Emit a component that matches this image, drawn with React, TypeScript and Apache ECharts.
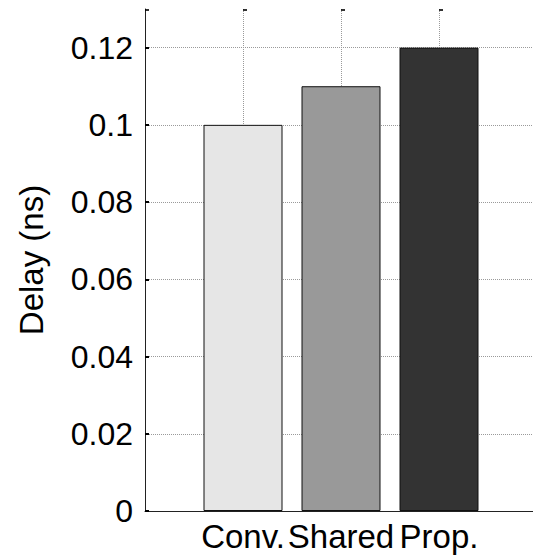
import React, { useEffect, useRef } from "react";
import * as echarts from "echarts";

// Bar categories and measured delays (ns)
const categories = ["Conv.", "Shared", "Prop."];
const delays = [0.1, 0.11, 0.12];
const barColors = ["#e6e6e6", "#999999", "#333333"];

// Axis extents
const yMax = 0.13;
const yStep = 0.02;
const xMin = 0;
const xMax = 4;

const FONT = "Arial, 'Liberation Sans', Helvetica, sans-serif";

export default function App() {
  const ref = useRef<HTMLDivElement>(null);

  useEffect(() => {
    if (!ref.current) return;
    const chart = echarts.init(ref.current, null, { renderer: "svg" });

    const barData = delays.map((v, i) => ({
      value: [i + 1, v],
      itemStyle: { color: barColors[i] },
    }));
    // small tick marks along the top edge at each category position
    const topMarks = [0, ...categories.map((_, i) => i + 1)].map((x) => [x, yMax]);

    chart.setOption({
      animation: false,
      backgroundColor: "#ffffff",
      grid: {
        left: 145,
        right: -4,
        top: 9,
        bottom: 49,
        containLabel: false,
        outerBoundsMode: "none",
      },
      xAxis: {
        type: "value",
        min: xMin,
        max: xMax,
        interval: 1,
        axisLine: { show: true, onZero: false, lineStyle: { color: "#222", width: 1 } },
        axisTick: { show: false },
        axisLabel: {
          margin: 9,
          color: "#000",
          fontFamily: FONT,
          fontSize: 33,
          formatter: (v: number) => categories[v - 1] ?? "",
        },
        splitLine: {
          show: true,
          lineStyle: { color: "#9a9a9a", width: 1, type: [1, 1] },
        },
      },
      yAxis: {
        type: "value",
        min: 0,
        max: yMax,
        interval: yStep,
        name: "Delay (ns)",
        nameLocation: "middle",
        nameGap: 97,
        nameRotate: 90,
        nameTextStyle: { color: "#000", fontFamily: FONT, fontSize: 33 },
        axisLine: { show: true, lineStyle: { color: "#222", width: 1 } },
        axisTick: { show: true, inside: true, length: 4, lineStyle: { color: "#000", width: 2 } },
        axisLabel: {
          margin: 12,
          color: "#000",
          fontFamily: FONT,
          fontSize: 32,
          showMaxLabel: false,
          formatter: (v: number) => String(parseFloat(v.toFixed(2))),
        },
        splitLine: {
          show: true,
          showMinLine: false,
          showMaxLine: false,
          lineStyle: { color: "#9a9a9a", width: 1, type: [1, 1] },
        },
      },
      series: [
        {
          type: "bar",
          data: barData,
          barWidth: 79,
          itemStyle: { borderColor: "#111", borderWidth: 1 },
          z: 3,
        },
        {
          type: "scatter",
          data: topMarks,
          symbol: "rect",
          symbolSize: [4, 2],
          symbolOffset: [2, 1],
          itemStyle: { color: "#000" },
          silent: true,
          z: 4,
        },
      ],
    });

    return () => chart.dispose();
  }, []);

  return (
    <div
      ref={ref}
      style={{ position: "fixed", left: 0, top: 0, width: 533, height: 560 }}
    />
  );
}
